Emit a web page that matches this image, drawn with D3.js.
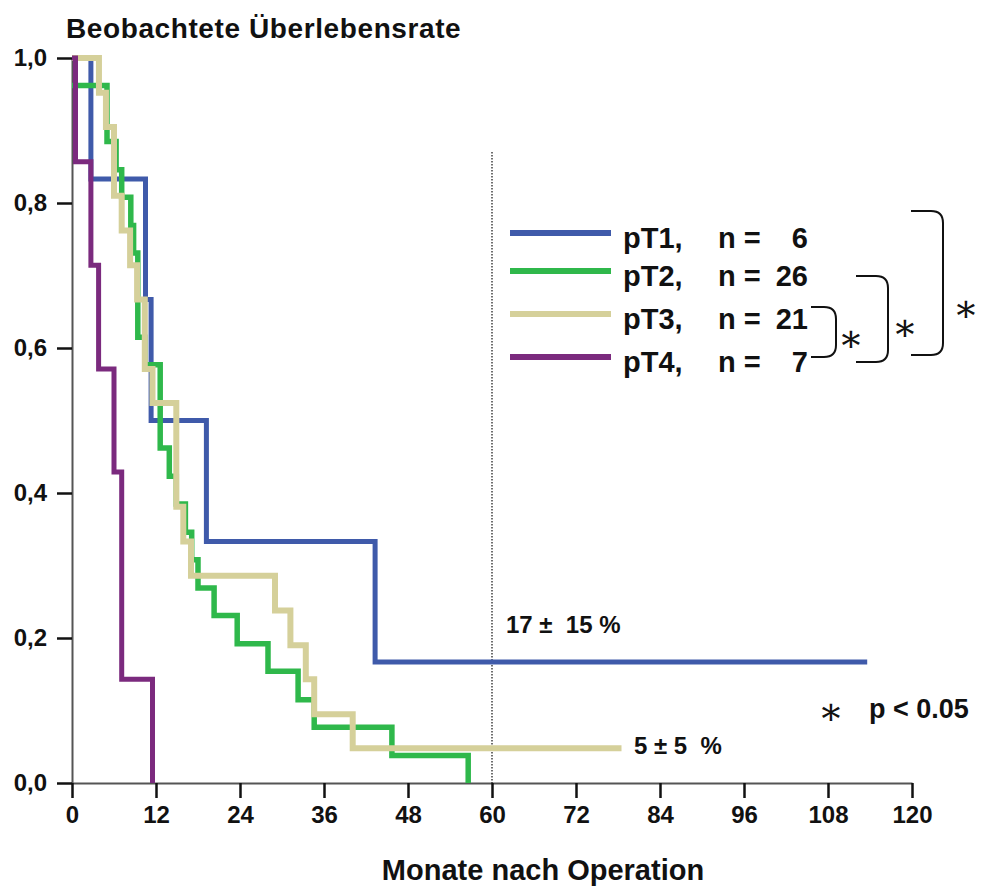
<html lang="de">
<head>
<meta charset="UTF-8">
<title>Beobachtete Überlebensrate</title>
<script src="https://d3js.org/d3.v7.min.js"></script>
<style>
    body { margin: 0; background: #fff; }
    text { font-family: "Liberation Sans", Arial, sans-serif; font-weight: bold; fill: #111; }
    .curve { fill: none; stroke-linejoin: miter; stroke-linecap: butt; }
    .star { font-family: "DejaVu Serif", serif; font-weight: normal; }
</style>
</head>
<body>
<svg width="991" height="887"></svg>
<script>
// Kaplan-Meier Stufen: Zeitpunkte (Monate) und Überlebensrate danach
const pT1Times = [0, 2.7, 10.5, 11.3, 19.2, 43.3, 113.6];
const pT1Surv  = [1.0, 0.833, 0.667, 0.5, 0.333, 0.167, 0.167];

const pT2Times = [0, 5.0, 6.3, 7.1, 8.4, 8.8, 9.4, 10.4, 12.6, 13.9, 14.9, 16.2, 17.1, 18.0, 20.3, 23.6, 28.0, 32.3, 34.6, 45.7, 56.6];
const pT2Surv  = [0.962, 0.885, 0.846, 0.808, 0.769, 0.731, 0.615, 0.577, 0.462, 0.423, 0.385, 0.346, 0.308, 0.269, 0.231, 0.192, 0.154, 0.115, 0.077, 0.038, 0.0];

const pT3Times = [0, 3.85, 4.85, 6.0, 7.1, 8.3, 9.3, 10.4, 11.5, 14.9, 15.9, 17.0, 29.0, 31.2, 33.4, 34.6, 40.1, 78.5];
const pT3Surv  = [1.0, 0.952, 0.905, 0.81, 0.762, 0.714, 0.667, 0.571, 0.524, 0.381, 0.333, 0.286, 0.238, 0.19, 0.143, 0.095, 0.048, 0.048];

const pT4Times = [0, 0.5, 2.7, 3.8, 6.0, 7.1, 11.5];
const pT4Surv  = [1.0, 0.857, 0.714, 0.571, 0.429, 0.143, 0.0];

const groups = ["pT1,", "pT2,", "pT3,", "pT4,"];
const groupN = [6, 26, 21, 7];
const colors = ["#3f5aaa", "#2fb84b", "#d5d09a", "#7b2a7e"];
const widths = [5, 5.5, 6, 5];

const xTicks = [0, 12, 24, 36, 48, 60, 72, 84, 96, 108, 120];
const yTicks = [0, 0.2, 0.4, 0.6, 0.8, 1.0];

const svg = d3.select("svg");

const x = d3.scaleLinear().domain([0, 120]).range([72, 912]);
const y = d3.scaleLinear().domain([0, 1]).range([783, 58]);

// Achsen
const yAxis = svg.append("g")
    .attr("transform", "translate(72,0)")
    .call(d3.axisLeft(y).tickValues(yTicks).tickSizeInner(15).tickSizeOuter(0).tickPadding(10)
        .tickFormat(d => d3.format(".1f")(d).replace(".", ",")));

const xAxis = svg.append("g")
    .attr("transform", "translate(0,783)")
    .call(d3.axisBottom(x).tickValues(xTicks).tickSizeInner(15).tickSizeOuter(0).tickPadding(8));

[xAxis, yAxis].forEach(g => {
    g.select(".domain").attr("stroke", "#555").attr("stroke-width", 2);
    g.selectAll(".tick line").attr("stroke", "#111").attr("stroke-width", 2.5);
    g.selectAll(".tick text").style("font-size", "24px").attr("fill", "#111");
});

// 60-Monats-Linie
svg.append("line")
    .attr("x1", x(60)).attr("x2", x(60))
    .attr("y1", 152).attr("y2", y(0))
    .attr("stroke", "#222").attr("stroke-width", 1.3)
    .attr("stroke-dasharray", "1.5,1.5");

// Kurven
const series = [
    [pT1Times, pT1Surv],
    [pT2Times, pT2Surv],
    [pT3Times, pT3Surv],
    [pT4Times, pT4Surv]
];

const line = d3.line()
    .x(d => x(d[0]))
    .y(d => y(d[1]))
    .curve(d3.curveStepAfter);

series.forEach((s, i) => {
    svg.append("path")
        .datum(d3.zip(s[0], s[1]))
        .attr("class", "curve")
        .attr("stroke", colors[i])
        .attr("stroke-width", widths[i])
        .attr("d", line);
});

// Titel
svg.append("text")
    .attr("x", 66).attr("y", 38)
    .style("font-size", "28px")
    .style("letter-spacing", "0.6px")
    .text("Beobachtete Überlebensrate");

svg.append("text")
    .attr("x", 543).attr("y", 880)
    .attr("text-anchor", "middle")
    .style("font-size", "29px")
    .text("Monate nach Operation");

// Legende
const legY = [233, 271, 314, 357];
groups.forEach((g, i) => {
    svg.append("line")
        .attr("x1", 510).attr("x2", 611)
        .attr("y1", legY[i]).attr("y2", legY[i])
        .attr("stroke", colors[i]).attr("stroke-width", 6);
    svg.append("text")
        .attr("x", 623).attr("y", legY[i] + 15)
        .style("font-size", "29px")
        .text(g);
    svg.append("text")
        .attr("x", 718).attr("y", legY[i] + 15)
        .style("font-size", "29px")
        .text("n =");
    svg.append("text")
        .attr("x", 808).attr("y", legY[i] + 15)
        .attr("text-anchor", "end")
        .style("font-size", "29px")
        .text(groupN[i]);
});

// Klammern für Signifikanz
function bracket(x0, y0, y1, xr) {
    const r = 12;
    return `M${x0},${y0} L${xr - r},${y0} Q${xr},${y0} ${xr},${y0 + r} L${xr},${y1 - r} Q${xr},${y1} ${xr - r},${y1} L${x0},${y1}`;
}
const brackets = [[811, 307, 357, 836], [856, 276, 362, 888], [911, 211, 355, 943]];
const stars = [[851, 338], [905, 327], [966, 308]];
brackets.forEach(b => {
    svg.append("path")
        .attr("d", bracket(b[0], b[1], b[2], b[3]))
        .attr("fill", "none").attr("stroke", "#111").attr("stroke-width", 2);
});
stars.forEach(s => {
    svg.append("text")
        .attr("class", "star")
        .attr("x", s[0]).attr("y", s[1])
        .attr("text-anchor", "middle")
        .attr("dominant-baseline", "central")
        .style("font-size", "38px")
        .text("∗");
});

// Anmerkungen
svg.append("text")
    .attr("x", 506).attr("y", 633)
    .style("font-size", "24px")
    .style("white-space", "pre")
    .text("17 ±  15 %");

svg.append("text")
    .attr("x", 634).attr("y", 754)
    .style("font-size", "24px")
    .style("white-space", "pre")
    .text("5 ± 5  %");

svg.append("text")
    .attr("class", "star")
    .attr("x", 831).attr("y", 711)
    .attr("text-anchor", "middle")
    .attr("dominant-baseline", "central")
    .style("font-size", "38px")
    .text("∗");

svg.append("text")
    .attr("x", 869).attr("y", 718)
    .style("font-size", "27px")
    .text("p < 0.05");
</script>
</body>
</html>
